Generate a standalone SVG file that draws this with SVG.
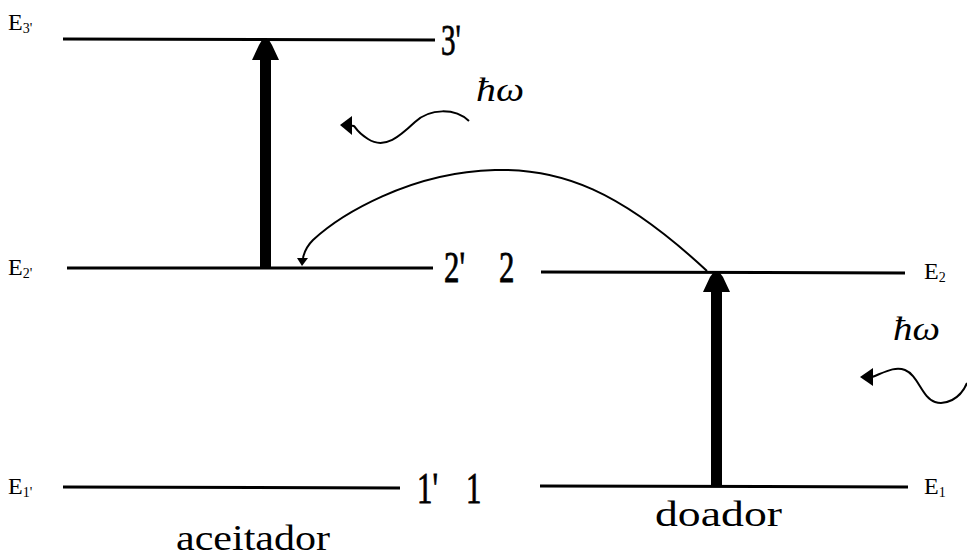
<svg xmlns="http://www.w3.org/2000/svg" width="967" height="557" viewBox="0 0 967 557">
<style>
.lvl{stroke:#000;stroke-width:3;fill:none}
.wave{stroke:#000;stroke-width:2;fill:none}
text{font-family:"Liberation Serif","Times New Roman","DejaVu Serif",serif;fill:#000}
.E{font-size:24px}
.sub{font-size:14px}
.num{font-size:44px;stroke:#000;stroke-width:0.8}
.hw{font-style:italic;font-size:33px}
.lab{font-size:36px}
</style>
<rect width="967" height="557" fill="#fff"/>
<g id="level-E3p">
<line class="lvl" x1="63" y1="39" x2="435" y2="40"/>
<text class="E" x="8" y="30">E<tspan class="sub" dy="3">3'</tspan></text>
<text class="num" transform="translate(441,55) scale(0.66,1)">3'</text>
</g>
<g id="level-E2p">
<line class="lvl" x1="67" y1="268" x2="433" y2="268"/>
<text class="E" x="8" y="275">E<tspan class="sub" dy="3">2'</tspan></text>
<text class="num" transform="translate(444,282) scale(0.7,1)">2'</text>
</g>
<g id="level-E2">
<line class="lvl" x1="541" y1="272" x2="905" y2="273"/>
<text class="E" x="924" y="279">E<tspan class="sub" dy="3">2</tspan></text>
<text class="num" transform="translate(499,282) scale(0.7,1)">2</text>
</g>
<g id="level-E1p">
<line class="lvl" x1="63" y1="487" x2="400" y2="488"/>
<text class="E" x="8" y="494">E<tspan class="sub" dy="3">1'</tspan></text>
<text class="num" transform="translate(417,503) scale(0.7,1)">1'</text>
</g>
<g id="level-E1">
<line class="lvl" x1="540" y1="486" x2="908" y2="487"/>
<text class="E" x="924" y="494">E<tspan class="sub" dy="3">1</tspan></text>
<text class="num" transform="translate(466,503) scale(0.7,1)">1</text>
</g>
<g id="label-aceitador"><text class="lab" x="176" y="550" textLength="154" lengthAdjust="spacingAndGlyphs">aceitador</text></g>
<g id="label-doador"><text class="lab" x="655" y="526" textLength="127" lengthAdjust="spacingAndGlyphs">doador</text></g>
<g id="photon-top"><text class="hw" x="476" y="101" textLength="48" lengthAdjust="spacingAndGlyphs">ħω</text></g>
<g id="photon-right"><text class="hw" x="893" y="340" textLength="47" lengthAdjust="spacingAndGlyphs">ħω</text></g>
<g id="connectors">
<rect x="260" y="55" width="11" height="213" fill="#000"/>
<polygon points="252,60 259,45 262,40 269,40 272,45 279,60" fill="#000"/>
<rect x="711" y="288" width="11" height="199" fill="#000"/>
<polygon points="703,292 710,277 713,273 720,273 723,277 730,292" fill="#000"/>
<path class="wave" d="M707,271 C620,190 560,168 495,170 C410,172 340,215 313,240 Q305,248 303,258"/>
<polygon points="297,258 308,258 302,266" fill="#000"/>
<path class="wave" d="M469,121 C455,108 430,108 415,122 S385,150 368,139 S358,125 350,126"/>
<polygon points="340,125 352,116 352,135" fill="#000"/>
<path class="wave" d="M967,383 C960,400 945,405 935,402 C922,398 918,375 905,370 C895,366 885,372 872,377"/>
<polygon points="860,377 873,368 873,386" fill="#000"/>
</g>
</svg>
